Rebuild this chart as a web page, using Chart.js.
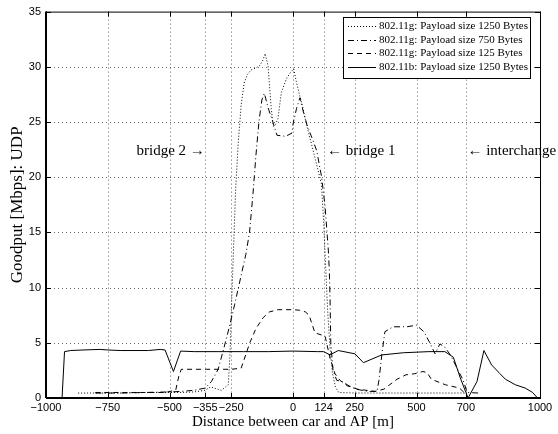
<!DOCTYPE html>
<html>
<head>
<meta charset="utf-8">
<script src="https://cdn.jsdelivr.net/npm/chart.js@4.4.0/dist/chart.umd.min.js"></script>
<style>
  html, body { margin: 0; padding: 0; background: #fff; }
  #wrap { width: 558px; height: 434px; }
</style>
</head>
<body>
<div id="wrap"><canvas id="chart" width="558" height="434"></canvas></div>
<script>
// Tick positions
const xTicks = [-1000, -750, -500, -355, -250, 0, 124, 250, 500, 700, 1000];
const yTicks = [0, 5, 10, 15, 20, 25, 30, 35];

const seriesLabels = [
    '802.11g: Payload size 1250 Bytes',
    '802.11g: Payload size 750 Bytes',
    '802.11g: Payload size 125 Bytes',
    '802.11b: Payload size 1250 Bytes'
];

// [distance m, goodput Mbps]
const g1250 = [
    [-870, 0.45], [-800, 0.45], [-700, 0.45], [-600, 0.5], [-500, 0.5], [-450, 0.5], [-400, 0.55],
    [-355, 0.7], [-334, 1.0], [-290, 0.7], [-262, 1.2], [-255, 4], [-248, 9], [-240, 14],
    [-232, 19], [-222, 23], [-210, 26.5], [-198, 28.5], [-185, 29.3], [-170, 29.7], [-150, 29.9],
    [-135, 30.1], [-122, 30.6], [-113, 31.2], [-101, 30.1], [-95, 28.3], [-88, 26.2], [-80, 24.6],
    [-70, 24.8], [-61, 25.3], [-47, 27.7], [-27, 28.9], [-10, 29.5], [3, 29.8], [13, 28.7],
    [27, 27.4], [40, 26.3], [54, 24.8], [75, 23.0], [95, 21.2], [115, 19.4], [124, 16],
    [132, 12], [140, 8], [150, 4.5], [160, 2.2], [172, 1.0], [185, 0.5], [250, 0.45], [300, 0.45],
    [400, 0.45], [500, 0.45], [600, 0.45], [700, 0.45]
];
const g750 = [
    [-800, 0.45], [-700, 0.45], [-600, 0.5], [-500, 0.55], [-450, 0.6], [-400, 0.7], [-355, 0.9],
    [-330, 1.5], [-303, 2.6], [-280, 4.5], [-257, 6.5], [-236, 8.5], [-216, 10.5], [-191, 13],
    [-176, 15], [-162, 18.5], [-150, 22], [-138, 25], [-126, 27], [-116, 27.6], [-101, 26.3],
    [-80, 24.9], [-65, 23.8], [-30, 23.7], [-4, 24.0], [0, 24.8], [14, 26.2], [28, 27.2],
    [41, 26.0], [56, 24.8], [76, 23.6], [96, 22.4], [116, 20], [130, 17.3], [137, 15.2],
    [143, 13.4], [147, 11.6], [150, 9], [153, 5], [162, 2.5], [177, 1.6], [198, 1.5],
    [227, 1.1], [256, 0.8], [300, 0.6], [340, 0.6], [348, 1.6], [360, 4], [372, 6.0], [405, 6.45],
    [461, 6.45], [500, 6.6], [530, 6.0], [555, 4.95], [575, 4.0], [595, 4.9], [615, 4.6],
    [640, 3.8], [662, 2.8], [689, 1.6], [705, 0.5], [750, 0.45]
];
const g125 = [
    [-800, 0.5], [-700, 0.5], [-600, 0.5], [-520, 0.5], [-475, 0.7], [-462, 2.0], [-452, 2.6],
    [-350, 2.6], [-250, 2.6], [-210, 2.7], [-190, 4], [-175, 5], [-150, 6.3], [-120, 7.3],
    [-95, 7.8], [-60, 8.0], [0, 8.0], [27, 7.95], [50, 7.8], [65, 7.5], [89, 5.9], [130, 5.6],
    [150, 3.6], [170, 2.2], [190, 1.6], [220, 1.1], [261, 0.8], [332, 0.6], [368, 0.8],
    [421, 1.7], [457, 2.1], [493, 2.2], [526, 2.4], [543, 2.3], [560, 1.7], [617, 1.2],
    [674, 0.9], [695, 0.45]
];
const b1250 = [
    [-935, 0], [-925, 4.2], [-900, 4.3], [-850, 4.35], [-781, 4.4], [-750, 4.35], [-700, 4.3],
    [-585, 4.3], [-538, 4.4], [-518, 4.35], [-484, 2.4], [-455, 4.25], [-400, 4.2], [-300, 4.2],
    [-200, 4.2], [-100, 4.2], [0, 4.25], [100, 4.2], [124, 4.2], [150, 3.9], [183, 4.3],
    [251, 4.0], [285, 3.2], [359, 3.9], [447, 4.1], [550, 4.2], [615, 4.2], [649, 3.7],
    [676, 1.9], [700, 0.5], [709, 0], [745, 1.5], [773, 4.3], [804, 3.0], [838, 2.2],
    [860, 1.7], [900, 1.2], [940, 0.9], [970, 0.5], [988, 0.05], [1000, 0]
];

const seriesData = [g1250, g750, g125, b1250];
const seriesDash = [[1, 2], [6, 3, 1, 3], [5, 4], []];

const notes = [
    { text: 'bridge 2 \u2192', x: -357, y: 22.4, align: 'right' },
    { text: '\u2190 bridge 1', x: 138, y: 22.4, align: 'left' },
    { text: '\u2190 interchange', x: 706, y: 22.4, align: 'left' }
];

const minus = v => String(v).replace('-', '\u2212');

const matlabFrame = {
    id: 'matlabFrame',
    beforeDatasetsDraw(chart) {
        const { ctx, chartArea: a, scales: { x, y } } = chart;
        ctx.save();
        ctx.strokeStyle = '#666';
        ctx.lineWidth = 1;
        ctx.setLineDash([1, 3]);
        xTicks.slice(1, -1).forEach(v => {
            const px = Math.round(x.getPixelForValue(v)) + 0.5;
            ctx.beginPath(); ctx.moveTo(px, a.top); ctx.lineTo(px, a.bottom); ctx.stroke();
        });
        yTicks.slice(1, -1).forEach(v => {
            const py = Math.round(y.getPixelForValue(v)) + 0.5;
            ctx.beginPath(); ctx.moveTo(a.left, py); ctx.lineTo(a.right, py); ctx.stroke();
        });
        ctx.restore();
    },
    afterDatasetsDraw(chart) {
        const { ctx, chartArea: a, scales: { x, y } } = chart;
        ctx.save();
        ctx.strokeStyle = '#000';
        ctx.lineWidth = 1;
        ctx.setLineDash([]);
        ctx.strokeRect(a.left + 0.5, a.top + 0.5, a.right - a.left, a.bottom - a.top);
        const tl = 5;
        ctx.beginPath();
        xTicks.forEach(v => {
            const px = Math.round(x.getPixelForValue(v)) + 0.5;
            ctx.moveTo(px, a.bottom); ctx.lineTo(px, a.bottom - tl);
            ctx.moveTo(px, a.top); ctx.lineTo(px, a.top + tl);
        });
        yTicks.forEach(v => {
            const py = Math.round(y.getPixelForValue(v)) + 0.5;
            ctx.moveTo(a.left, py); ctx.lineTo(a.left + tl, py);
            ctx.moveTo(a.right, py); ctx.lineTo(a.right - tl, py);
        });
        ctx.stroke();
        // heavier bottom and left axis lines as in the reference
        ctx.lineWidth = 2;
        ctx.beginPath();
        ctx.moveTo(a.left, a.bottom); ctx.lineTo(a.right, a.bottom);
        ctx.moveTo(a.left, a.top); ctx.lineTo(a.left, a.bottom);
        ctx.stroke();

        // annotations
        ctx.fillStyle = '#000';
        ctx.font = "15px 'Liberation Serif'";
        ctx.textBaseline = 'middle';
        notes.forEach(n => {
            ctx.textAlign = n.align;
            ctx.fillText(n.text, x.getPixelForValue(n.x), y.getPixelForValue(n.y));
        });

        // legend box
        const box = { left: 343, top: 17, right: 530, bottom: 78 };
        ctx.fillStyle = '#fff';
        ctx.fillRect(box.left, box.top, box.right - box.left, box.bottom - box.top);
        ctx.lineWidth = 1;
        ctx.strokeStyle = '#000';
        ctx.strokeRect(box.left + 0.5, box.top + 0.5, box.right - box.left, box.bottom - box.top);
        ctx.font = "11px 'Liberation Serif'";
        ctx.textAlign = 'left';
        ctx.fillStyle = '#000';
        chart.data.datasets.forEach((ds, i) => {
            const ly = Math.round(box.top + 9 + i * 13.5);
            ctx.setLineDash(ds.borderDash);
            ctx.beginPath();
            ctx.moveTo(box.left + 5, ly + 0.5); ctx.lineTo(box.left + 33, ly + 0.5);
            ctx.stroke();
            ctx.setLineDash([]);
            ctx.fillText(ds.label, box.left + 36, ly);
        });
        ctx.restore();
    }
};

new Chart(document.getElementById('chart'), {
    type: 'line',
    data: {
        datasets: seriesData.map((pts, i) => ({
            label: seriesLabels[i],
            data: pts.map(([dx, dy]) => ({ x: dx, y: dy })),
            borderColor: '#000',
            borderWidth: 1,
            borderDash: seriesDash[i],
            pointRadius: 0,
            tension: 0,
            fill: false
        }))
    },
    options: {
        responsive: false,
        animation: false,
        devicePixelRatio: 1,
        layout: { padding: { top: 11, right: 18, left: 0, bottom: 0 } },
        plugins: { legend: { display: false }, tooltip: { enabled: false } },
        scales: {
            x: {
                type: 'linear',
                min: -1000,
                max: 1000,
                afterBuildTicks: s => { s.ticks = xTicks.map(v => ({ value: v })); },
                afterFit: s => { s.height = 36; },
                grid: { display: false, drawTicks: false },
                border: { display: false },
                ticks: {
                    autoSkip: false,
                    maxRotation: 0,
                    padding: 3,
                    color: '#000',
                    font: { family: "'Liberation Sans'", size: 11 },
                    callback: v => minus(v)
                },
                title: {
                    display: true,
                    text: 'Distance between car and AP [m]',
                    color: '#000',
                    font: { family: "'Liberation Serif'", size: 15 },
                    padding: { top: 0, bottom: 3 }
                }
            },
            y: {
                type: 'linear',
                min: 0,
                max: 35,
                afterBuildTicks: s => { s.ticks = yTicks.map(v => ({ value: v })); },
                afterFit: s => { s.width = 46; },
                grid: { display: false, drawTicks: false },
                border: { display: false },
                ticks: {
                    padding: 5,
                    color: '#000',
                    font: { family: "'Liberation Sans'", size: 11 }
                },
                title: {
                    display: true,
                    text: 'Goodput [Mbps]: UDP',
                    color: '#000',
                    font: { family: "'Liberation Serif'", size: 17 },
                    padding: { top: 7, bottom: 2 }
                }
            }
        }
    },
    plugins: [matlabFrame]
});
</script>
</body>
</html>
